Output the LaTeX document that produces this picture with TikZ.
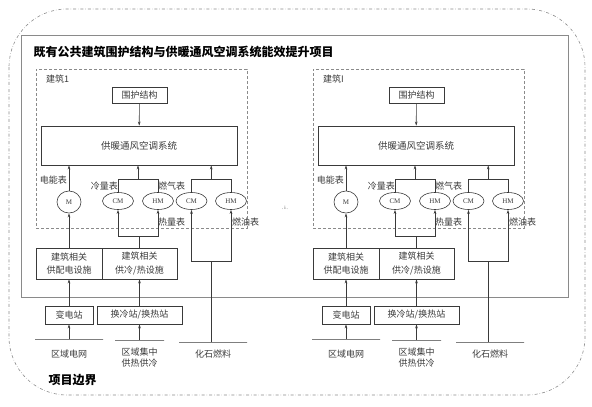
\documentclass[tikz,border=0pt]{standalone}
\usepackage{fontspec}
\setmainfont{Liberation Serif}
\newfontfamily\cjk{Noto Sans CJK SC}
\usetikzlibrary{arrows.meta,shapes.geometric,calc}
\definecolor{inkgray}{HTML}{3A3A3A}
\definecolor{edgegray}{HTML}{8A8A8A}
\tikzset{
  >={Stealth[length=4pt,width=2.6pt]},
  every node/.style={font=\cjk\fontsize{9}{11}\selectfont, text=inkgray},
  box/.style={draw=inkgray, line width=0.7pt, align=center, inner sep=1pt, font=\cjk\fontsize{9}{13.5}\selectfont},
  meter/.style={draw=inkgray, ellipse, line width=0.6pt, inner sep=0pt, minimum width=31pt, minimum height=17pt, font=\rmfamily\fontsize{7}{8}\selectfont},
  bldg/.style={draw=edgegray, densely dashed, line width=0.5pt, inner sep=0pt},
  bar/.style={draw=inkgray, line width=0.7pt, inner sep=0pt, outer sep=0pt, minimum height=0pt},
  lbl/.style={inner sep=1pt},
  headline/.style={font=\cjk\bfseries\fontsize{12}{14}\selectfont, text=black},
  flow/.style={->, line width=0.6pt, draw=inkgray},
  wire/.style={line width=0.6pt, draw=inkgray},
}
\begin{document}
\begin{tikzpicture}[x=1pt,y=-1pt]
  \useasboundingbox (0,0) rectangle (592,407);
  % project boundary and project frame
  \draw[edgegray, dash dot, line width=0.6pt, rounded corners=58pt] (9,9) rectangle (585,395);
  \draw[edgegray, line width=0.9pt] (21,35) rectangle (568,297);
  \node[headline, anchor=west] (title) at (30,52) {既有公共建筑围护结构与供暖通风空调系统能效提升项目};
  \node[headline, anchor=west] (bound) at (45,380) {项目边界};
  \node[font=\rmfamily\tiny, inner sep=0pt] (dots) at (285,208) {.\,i\,.};

  \foreach \dx/\id/\bname in {0/L/建筑1, 277/R/建筑I}{
  \begin{scope}[xshift=\dx]
    \node[bldg, minimum width=211pt, minimum height=159pt] (bld\id) at (141.5,148.5) {};
    \node[lbl, anchor=west] (bname\id) at (45,79) {\bname};
    \node[box, minimum width=55pt, minimum height=16pt] (wall\id) at (139.5,95) {围护结构};
    \node[box, minimum width=196pt, minimum height=39pt, font=\cjk\fontsize{9.5}{11}\selectfont] (hvac\id) at (139,145.5) {供暖通风空调系统};

    % meters
    \node[meter, minimum width=24pt, minimum height=22pt] (m\id) at (69,202) {M};
    \node[meter] (cma\id) at (118,201) {CM};
    \node[meter] (hma\id) at (158,201) {HM};
    \node[meter] (cmb\id) at (191.5,201) {CM};
    \node[meter] (hmb\id) at (231,201) {HM};
    \node[lbl, anchor=east] (elbl\id) at (68,180) {电能表};
    \node[lbl, anchor=east] (clbl\id) at (119,186) {冷量表};
    \node[lbl, anchor=west] (glbl\id) at (157,186) {燃气表};
    \node[lbl, anchor=west] (hlbl\id) at (157,222) {热量表};
    \node[lbl, anchor=west] (olbl\id) at (231,222) {燃油表};

    % supply side
    \node[box, minimum width=66pt, minimum height=31pt] (elec\id) at (69,263.5) {建筑相关\\供配电设施};
    \node[box, minimum width=75pt, minimum height=31pt] (heat\id) at (139.5,263.5) {建筑相关\\供冷/热设施};
    \node[box, minimum width=48pt, minimum height=18pt] (sub\id) at (69,315) {变电站};
    \node[box, minimum width=85pt, minimum height=18pt] (xchg\id) at (139.5,315) {换冷站/换热站};
    \node[bar, minimum width=68pt] (grid\id) at (69,339) {};
    \node[bar, minimum width=49pt] (dist\id) at (139.5,340) {};
    \node[bar, minimum width=68pt] (fuel\id) at (213,342) {};
    \node[lbl] (gridt\id) at (69,354) {区域电网};
    \node[lbl, align=center] (distt\id) at (139.5,358) {区域集中\\供热供冷};
    \node[lbl] (fuelt\id) at (213,354) {化石燃料};

    \draw[flow] (wall\id) -- (hvac\id);
    \draw[flow] (m\id) -- (m\id |- hvac\id.south);
    \coordinate (ctop\id) at ($(cma\id.north)!0.5!(hma\id.north)+(0,-12.5)$);
    \draw[wire] (cma\id.north) |- (ctop\id) -| (hma\id.north);
    \draw[flow] (ctop\id) -- (ctop\id |- hvac\id.south);
    \coordinate (gtop\id) at ($(cmb\id.north)!0.5!(hmb\id.north)+(0,-12.5)$);
    \draw[wire] (cmb\id.north) |- (gtop\id) -| (hmb\id.north);
    \draw[flow] (gtop\id) -- (gtop\id |- hvac\id.south);

    \draw[flow] (elec\id) -- (m\id);
    \coordinate (cjoin\id) at ($(heat\id.north)+(0,-11)$);
    \draw[wire] (heat\id.north) -- (cjoin\id);
    \draw[flow] (cjoin\id) -| (cma\id.south);
    \draw[flow] (cjoin\id) -| (hma\id.south);
    \coordinate (fjoin\id) at ($(cmb\id.south)!0.5!(hmb\id.south)+(0,51)$);
    \draw[wire] (fjoin\id |- fuel\id.center) -- (fjoin\id);
    \draw[flow] (fjoin\id) -| (cmb\id.south);
    \draw[flow] (fjoin\id) -| (hmb\id.south);

    \draw[flow] (sub\id) -- (elec\id);
    \draw[flow] (xchg\id) -- (heat\id);
    \draw[flow] (grid\id) -- (sub\id);
    \draw[flow] (dist\id) -- (xchg\id);
  \end{scope}
  }
\end{tikzpicture}
\end{document}
